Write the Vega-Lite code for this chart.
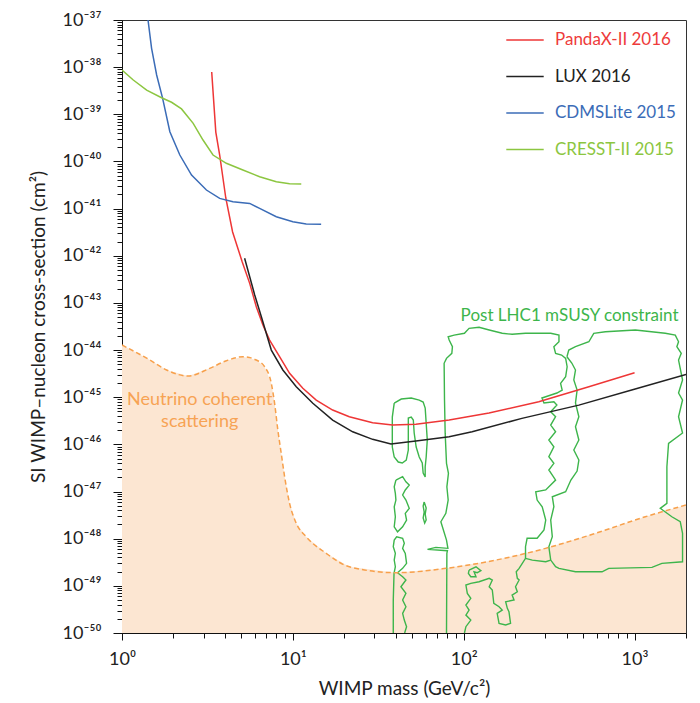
{
  "$schema": "https://vega.github.io/schema/vega-lite/v6.json",
  "width": 564,
  "height": 613,
  "autosize": {"type": "none"},
  "padding": {"left": 122, "top": 20, "right": 14, "bottom": 70},
  "background": "white",
  "config": {
    "view": {"stroke": "#333", "strokeWidth": 1},
    "font": "Lato",
    "axis": {"labelFont": "Lato", "titleFont": "Lato", "titleFontWeight": "normal", "labelColor": "#222", "titleColor": "#222", "domainColor": "#111", "tickColor": "#111", "grid": false, "labelFontSize": 18, "titleFontSize": 19, "labelOverlap": false, "labelFlush": false}
  },
  "datasets": {
    "curves": [
      {"experiment": "PandaX-II 2016", "i": 0, "mass": 3.35, "sigma": 7.9e-39},
      {"experiment": "PandaX-II 2016", "i": 1, "mass": 3.54, "sigma": 4.2e-40},
      {"experiment": "PandaX-II 2016", "i": 2, "mass": 3.73, "sigma": 1.37e-40},
      {"experiment": "PandaX-II 2016", "i": 3, "mass": 4.05, "sigma": 1.68e-41},
      {"experiment": "PandaX-II 2016", "i": 4, "mass": 4.44, "sigma": 3.19e-42},
      {"experiment": "PandaX-II 2016", "i": 5, "mass": 5.05, "sigma": 7.5e-43},
      {"experiment": "PandaX-II 2016", "i": 6, "mass": 5.59, "sigma": 2.6e-43},
      {"experiment": "PandaX-II 2016", "i": 7, "mass": 6.11, "sigma": 8.31e-44},
      {"experiment": "PandaX-II 2016", "i": 8, "mass": 6.68, "sigma": 3.4e-44},
      {"experiment": "PandaX-II 2016", "i": 9, "mass": 7.31, "sigma": 1.63e-44},
      {"experiment": "PandaX-II 2016", "i": 10, "mass": 8.36, "sigma": 7.23e-45},
      {"experiment": "PandaX-II 2016", "i": 11, "mass": 9.57, "sigma": 3.21e-45},
      {"experiment": "PandaX-II 2016", "i": 12, "mass": 11.44, "sigma": 1.55e-45},
      {"experiment": "PandaX-II 2016", "i": 13, "mass": 13.7, "sigma": 8.72e-46},
      {"experiment": "PandaX-II 2016", "i": 14, "mass": 17.1, "sigma": 5.35e-46},
      {"experiment": "PandaX-II 2016", "i": 15, "mass": 21.4, "sigma": 3.86e-46},
      {"experiment": "PandaX-II 2016", "i": 16, "mass": 29.3, "sigma": 2.88e-46},
      {"experiment": "PandaX-II 2016", "i": 17, "mass": 38.3, "sigma": 2.57e-46},
      {"experiment": "PandaX-II 2016", "i": 18, "mass": 52.5, "sigma": 2.66e-46},
      {"experiment": "PandaX-II 2016", "i": 19, "mass": 82.2, "sigma": 3.28e-46},
      {"experiment": "PandaX-II 2016", "i": 20, "mass": 140.6, "sigma": 4.62e-46},
      {"experiment": "PandaX-II 2016", "i": 21, "mass": 275, "sigma": 8.03e-46},
      {"experiment": "PandaX-II 2016", "i": 22, "mass": 540, "sigma": 1.67e-45},
      {"experiment": "PandaX-II 2016", "i": 23, "mass": 1000, "sigma": 3.31e-45},
      {"experiment": "LUX 2016", "i": 0, "mass": 5.22, "sigma": 8.83e-43},
      {"experiment": "LUX 2016", "i": 1, "mass": 5.59, "sigma": 3.6e-43},
      {"experiment": "LUX 2016", "i": 2, "mass": 5.98, "sigma": 1.47e-43},
      {"experiment": "LUX 2016", "i": 3, "mass": 6.54, "sigma": 5.1e-44},
      {"experiment": "LUX 2016", "i": 4, "mass": 7.48, "sigma": 1.0e-44},
      {"experiment": "LUX 2016", "i": 5, "mass": 8.74, "sigma": 3.78e-45},
      {"experiment": "LUX 2016", "i": 6, "mass": 10.47, "sigma": 1.67e-45},
      {"experiment": "LUX 2016", "i": 7, "mass": 13.09, "sigma": 7.43e-46},
      {"experiment": "LUX 2016", "i": 8, "mass": 17.1, "sigma": 3.28e-46},
      {"experiment": "LUX 2016", "i": 9, "mass": 22.4, "sigma": 1.85e-46},
      {"experiment": "LUX 2016", "i": 10, "mass": 29.3, "sigma": 1.28e-46},
      {"experiment": "LUX 2016", "i": 11, "mass": 37.5, "sigma": 1.02e-46},
      {"experiment": "LUX 2016", "i": 12, "mass": 52.5, "sigma": 1.18e-46},
      {"experiment": "LUX 2016", "i": 13, "mass": 82.2, "sigma": 1.45e-46},
      {"experiment": "LUX 2016", "i": 14, "mass": 112, "sigma": 1.85e-46},
      {"experiment": "LUX 2016", "i": 15, "mass": 219, "sigma": 3.56e-46},
      {"experiment": "LUX 2016", "i": 16, "mass": 472, "sigma": 6.8e-46},
      {"experiment": "LUX 2016", "i": 17, "mass": 962, "sigma": 1.42e-45},
      {"experiment": "LUX 2016", "i": 18, "mass": 2000, "sigma": 3.05e-45},
      {"experiment": "CDMSLite 2015", "i": 0, "mass": 1.42, "sigma": 1e-37},
      {"experiment": "CDMSLite 2015", "i": 1, "mass": 1.49, "sigma": 2.51e-38},
      {"experiment": "CDMSLite 2015", "i": 2, "mass": 1.595, "sigma": 6.82e-39},
      {"experiment": "CDMSLite 2015", "i": 3, "mass": 1.729, "sigma": 2.18e-39},
      {"experiment": "CDMSLite 2015", "i": 4, "mass": 1.906, "sigma": 4.27e-40},
      {"experiment": "CDMSLite 2015", "i": 5, "mass": 2.18, "sigma": 1.37e-40},
      {"experiment": "CDMSLite 2015", "i": 6, "mass": 2.553, "sigma": 5.16e-41},
      {"experiment": "CDMSLite 2015", "i": 7, "mass": 3.12, "sigma": 2.48e-41},
      {"experiment": "CDMSLite 2015", "i": 8, "mass": 3.73, "sigma": 1.65e-41},
      {"experiment": "CDMSLite 2015", "i": 9, "mass": 4.46, "sigma": 1.40e-41},
      {"experiment": "CDMSLite 2015", "i": 10, "mass": 5.59, "sigma": 1.29e-41},
      {"experiment": "CDMSLite 2015", "i": 11, "mass": 6.39, "sigma": 1.01e-41},
      {"experiment": "CDMSLite 2015", "i": 12, "mass": 8.0, "sigma": 6.73e-42},
      {"experiment": "CDMSLite 2015", "i": 13, "mass": 10.0, "sigma": 5.27e-42},
      {"experiment": "CDMSLite 2015", "i": 14, "mass": 11.97, "sigma": 4.71e-42},
      {"experiment": "CDMSLite 2015", "i": 15, "mass": 14.64, "sigma": 4.64e-42},
      {"experiment": "CRESST-II 2015", "i": 0, "mass": 1.0, "sigma": 8.7e-39},
      {"experiment": "CRESST-II 2015", "i": 1, "mass": 1.164, "sigma": 5.33e-39},
      {"experiment": "CRESST-II 2015", "i": 2, "mass": 1.394, "sigma": 3.27e-39},
      {"experiment": "CRESST-II 2015", "i": 3, "mass": 1.705, "sigma": 2.25e-39},
      {"experiment": "CRESST-II 2015", "i": 4, "mass": 1.95, "sigma": 1.80e-39},
      {"experiment": "CRESST-II 2015", "i": 5, "mass": 2.23, "sigma": 1.30e-39},
      {"experiment": "CRESST-II 2015", "i": 6, "mass": 2.61, "sigma": 6.44e-40},
      {"experiment": "CRESST-II 2015", "i": 7, "mass": 2.98, "sigma": 2.85e-40},
      {"experiment": "CRESST-II 2015", "i": 8, "mass": 3.41, "sigma": 1.37e-40},
      {"experiment": "CRESST-II 2015", "i": 9, "mass": 4.08, "sigma": 9.14e-41},
      {"experiment": "CRESST-II 2015", "i": 10, "mass": 5.10, "sigma": 6.59e-41},
      {"experiment": "CRESST-II 2015", "i": 11, "mass": 6.39, "sigma": 4.75e-41},
      {"experiment": "CRESST-II 2015", "i": 12, "mass": 8.0, "sigma": 3.72e-41},
      {"experiment": "CRESST-II 2015", "i": 13, "mass": 9.57, "sigma": 3.37e-41},
      {"experiment": "CRESST-II 2015", "i": 14, "mass": 11.2, "sigma": 3.32e-41}
    ],
    "neutrino": [
      {"mass": 1.0, "sigma": 1.28e-44}, {"mass": 1.457, "sigma": 6.15e-45}, {"mass": 1.823, "sigma": 3.78e-45},
      {"mass": 2.44, "sigma": 2.82e-45}, {"mass": 3.26, "sigma": 4.1e-45}, {"mass": 4.08, "sigma": 5.94e-45},
      {"mass": 5.10, "sigma": 7.22e-45}, {"mass": 6.11, "sigma": 6.15e-45}, {"mass": 6.83, "sigma": 4.44e-45},
      {"mass": 7.48, "sigma": 1.97e-45}, {"mass": 7.82, "sigma": 7.43e-46}, {"mass": 8.17, "sigma": 2.01e-46},
      {"mass": 8.55, "sigma": 6.45e-47}, {"mass": 8.95, "sigma": 2.06e-47}, {"mass": 9.57, "sigma": 5.62e-48},
      {"mass": 10.47, "sigma": 2.12e-48}, {"mass": 11.97, "sigma": 1.10e-48}, {"mass": 15.67, "sigma": 4.89e-49},
      {"mass": 21.4, "sigma": 2.54e-49}, {"mass": 40.2, "sigma": 1.90e-49}, {"mass": 78.6, "sigma": 2.35e-49},
      {"mass": 154, "sigma": 3.52e-49}, {"mass": 301, "sigma": 6.24e-49}, {"mass": 590, "sigma": 1.30e-48},
      {"mass": 1156, "sigma": 2.92e-48}, {"mass": 2000, "sigma": 5.18e-48}
    ],
    "labels": [
      {"text": "Neutrino coherent", "mass": 2.85, "sigma": 8.73e-46, "kind": "nu"},
      {"text": "scattering", "mass": 2.85, "sigma": 3.02e-46, "kind": "nu"}
    ],
    "contours": [
      {"c": "A", "i": 0, "mass": 39.2, "sigma": 7.53e-46}, {"c": "A", "i": 1, "mass": 43.1, "sigma": 9.16e-46},
      {"c": "A", "i": 2, "mass": 49.3, "sigma": 9.62e-46}, {"c": "A", "i": 3, "mass": 54.9, "sigma": 8.72e-46},
      {"c": "A", "i": 4, "mass": 57.9, "sigma": 7.91e-46}, {"c": "A", "i": 5, "mass": 59.5, "sigma": 5.90e-46},
      {"c": "A", "i": 6, "mass": 60.3, "sigma": 2.84e-46}, {"c": "A", "i": 7, "mass": 61.2, "sigma": 1.24e-46},
      {"c": "A", "i": 8, "mass": 60.3, "sigma": 5.39e-47}, {"c": "A", "i": 9, "mass": 59.5, "sigma": 3.31e-47},
      {"c": "A", "i": 10, "mass": 59.5, "sigma": 2.03e-47}, {"c": "A", "i": 11, "mass": 57.9, "sigma": 2.47e-47},
      {"c": "A", "i": 12, "mass": 57.2, "sigma": 4.02e-47}, {"c": "A", "i": 13, "mass": 54.9, "sigma": 5.39e-47},
      {"c": "A", "i": 14, "mass": 52.7, "sigma": 8.79e-47}, {"c": "A", "i": 15, "mass": 51.3, "sigma": 1.74e-46},
      {"c": "A", "i": 16, "mass": 50.7, "sigma": 3.28e-46}, {"c": "A", "i": 17, "mass": 49.3, "sigma": 3.80e-46},
      {"c": "A", "i": 18, "mass": 47.4, "sigma": 3.62e-46}, {"c": "A", "i": 19, "mass": 47.4, "sigma": 1.74e-46},
      {"c": "A", "i": 20, "mass": 47.4, "sigma": 7.59e-47}, {"c": "A", "i": 21, "mass": 46.1, "sigma": 4.66e-47},
      {"c": "A", "i": 22, "mass": 43.7, "sigma": 4.02e-47}, {"c": "A", "i": 23, "mass": 41.4, "sigma": 4.22e-47},
      {"c": "A", "i": 24, "mass": 39.2, "sigma": 5.39e-47}, {"c": "A", "i": 25, "mass": 38.2, "sigma": 8.79e-47},
      {"c": "A", "i": 26, "mass": 38.2, "sigma": 1.74e-46}, {"c": "A", "i": 27, "mass": 38.2, "sigma": 3.80e-46},
      {"c": "A", "i": 28, "mass": 39.2, "sigma": 7.53e-46},
      {"c": "B", "i": 0, "mass": 40.1, "sigma": 1.75e-47}, {"c": "B", "i": 1, "mass": 43.9, "sigma": 2.06e-47},
      {"c": "B", "i": 2, "mass": 45.9, "sigma": 1.61e-47}, {"c": "B", "i": 3, "mass": 48.0, "sigma": 1.37e-47},
      {"c": "B", "i": 4, "mass": 45.5, "sigma": 1.08e-47}, {"c": "B", "i": 5, "mass": 43.9, "sigma": 8.43e-48},
      {"c": "B", "i": 6, "mass": 45.9, "sigma": 6.60e-48}, {"c": "B", "i": 7, "mass": 48.0, "sigma": 4.40e-48},
      {"c": "B", "i": 8, "mass": 45.5, "sigma": 3.45e-48}, {"c": "B", "i": 9, "mass": 46.3, "sigma": 2.49e-48},
      {"c": "B", "i": 10, "mass": 43.9, "sigma": 1.79e-48}, {"c": "B", "i": 11, "mass": 41.0, "sigma": 1.40e-48},
      {"c": "B", "i": 12, "mass": 39.2, "sigma": 1.79e-48}, {"c": "B", "i": 13, "mass": 39.8, "sigma": 2.92e-48},
      {"c": "B", "i": 14, "mass": 39.2, "sigma": 4.76e-48}, {"c": "B", "i": 15, "mass": 40.1, "sigma": 6.60e-48},
      {"c": "B", "i": 16, "mass": 39.8, "sigma": 9.16e-48}, {"c": "B", "i": 17, "mass": 39.2, "sigma": 1.26e-47},
      {"c": "B", "i": 18, "mass": 40.1, "sigma": 1.75e-47},
      {"c": "C", "i": 0, "mass": 58.7, "sigma": 5.99e-48}, {"c": "C", "i": 1, "mass": 60.3, "sigma": 4.47e-48},
      {"c": "C", "i": 2, "mass": 59.5, "sigma": 3.33e-48}, {"c": "C", "i": 3, "mass": 60.3, "sigma": 2.49e-48},
      {"c": "C", "i": 4, "mass": 59.1, "sigma": 2.15e-48}, {"c": "C", "i": 5, "mass": 57.9, "sigma": 2.74e-48},
      {"c": "C", "i": 6, "mass": 58.7, "sigma": 3.67e-48}, {"c": "C", "i": 7, "mass": 57.9, "sigma": 4.93e-48},
      {"c": "C", "i": 8, "mass": 58.7, "sigma": 5.99e-48},
      {"c": "D", "i": 0, "mass": 38.7, "sigma": 1e-50}, {"c": "D", "i": 1, "mass": 38.7, "sigma": 5.0e-50},
      {"c": "D", "i": 2, "mass": 39.1, "sigma": 1.84e-49}, {"c": "D", "i": 3, "mass": 39.8, "sigma": 2.54e-49},
      {"c": "D", "i": 4, "mass": 39.2, "sigma": 3.52e-49}, {"c": "D", "i": 5, "mass": 39.8, "sigma": 4.89e-49},
      {"c": "D", "i": 6, "mass": 38.7, "sigma": 6.75e-49}, {"c": "D", "i": 7, "mass": 39.2, "sigma": 9.36e-49},
      {"c": "D", "i": 8, "mass": 40.5, "sigma": 1.10e-48}, {"c": "D", "i": 9, "mass": 43.9, "sigma": 1.02e-48},
      {"c": "D", "i": 10, "mass": 44.9, "sigma": 7.97e-49}, {"c": "D", "i": 11, "mass": 43.9, "sigma": 6.24e-49},
      {"c": "D", "i": 12, "mass": 45.5, "sigma": 4.89e-49}, {"c": "D", "i": 13, "mass": 46.3, "sigma": 3.00e-49},
      {"c": "D", "i": 14, "mass": 43.9, "sigma": 2.35e-49}, {"c": "D", "i": 15, "mass": 41.0, "sigma": 1.90e-49},
      {"c": "D", "i": 16, "mass": 43.9, "sigma": 1.56e-49}, {"c": "D", "i": 17, "mass": 45.9, "sigma": 1.33e-49},
      {"c": "D", "i": 18, "mass": 42.9, "sigma": 9.57e-50}, {"c": "D", "i": 19, "mass": 45.9, "sigma": 6.93e-50},
      {"c": "D", "i": 20, "mass": 43.9, "sigma": 5.0e-50}, {"c": "D", "i": 21, "mass": 45.9, "sigma": 3.60e-50},
      {"c": "D", "i": 22, "mass": 43.9, "sigma": 2.61e-50}, {"c": "D", "i": 23, "mass": 44.9, "sigma": 1.88e-50},
      {"c": "D", "i": 24, "mass": 46.3, "sigma": 1.36e-50}, {"c": "D", "i": 25, "mass": 45.1, "sigma": 1e-50},
      {"c": "E", "i": 0, "mass": 79.3, "sigma": 1e-50}, {"c": "E", "i": 1, "mass": 79.7, "sigma": 4.89e-49},
      {"c": "E", "i": 2, "mass": 80.3, "sigma": 5.55e-49}, {"c": "E", "i": 3, "mass": 61.4, "sigma": 5.94e-49},
      {"c": "E", "i": 4, "mass": 68.7, "sigma": 6.55e-49}, {"c": "E", "i": 5, "mass": 80.8, "sigma": 6.24e-49},
      {"c": "E", "i": 6, "mass": 79.3, "sigma": 9.36e-49}, {"c": "E", "i": 7, "mass": 73.5, "sigma": 2.29e-48},
      {"c": "E", "i": 8, "mass": 78.6, "sigma": 3.45e-48}, {"c": "E", "i": 9, "mass": 81.1, "sigma": 6.60e-48},
      {"c": "E", "i": 10, "mass": 79.7, "sigma": 1.26e-47}, {"c": "E", "i": 11, "mass": 81.4, "sigma": 2.43e-47},
      {"c": "E", "i": 12, "mass": 79.3, "sigma": 3.96e-47}, {"c": "E", "i": 13, "mass": 77.9, "sigma": 1.71e-46},
      {"c": "E", "i": 14, "mass": 77.2, "sigma": 8.72e-46}, {"c": "E", "i": 15, "mass": 76.8, "sigma": 5.24e-45},
      {"c": "E", "i": 16, "mass": 79.3, "sigma": 6.68e-45}, {"c": "E", "i": 17, "mass": 85.2, "sigma": 8.53e-45},
      {"c": "E", "i": 18, "mass": 85.9, "sigma": 1.18e-44}, {"c": "E", "i": 19, "mass": 82.2, "sigma": 1.63e-44},
      {"c": "E", "i": 20, "mass": 81.1, "sigma": 1.92e-44}, {"c": "E", "i": 21, "mass": 87.9, "sigma": 2.08e-44},
      {"c": "E", "i": 22, "mass": 101, "sigma": 2.27e-44}, {"c": "E", "i": 23, "mass": 107.5, "sigma": 2.89e-44},
      {"c": "E", "i": 24, "mass": 123, "sigma": 3.04e-44}, {"c": "E", "i": 25, "mass": 141, "sigma": 2.66e-44},
      {"c": "E", "i": 26, "mass": 168, "sigma": 2.27e-44}, {"c": "E", "i": 27, "mass": 192, "sigma": 2.16e-44},
      {"c": "E", "i": 28, "mass": 230, "sigma": 2.27e-44}, {"c": "E", "i": 29, "mass": 276, "sigma": 2.27e-44},
      {"c": "E", "i": 30, "mass": 323, "sigma": 2.27e-44}, {"c": "E", "i": 31, "mass": 361, "sigma": 2.08e-44},
      {"c": "E", "i": 32, "mass": 361, "sigma": 1.50e-44}, {"c": "E", "i": 33, "mass": 337, "sigma": 1.18e-44},
      {"c": "E", "i": 34, "mass": 345, "sigma": 8.53e-45}, {"c": "E", "i": 35, "mass": 374, "sigma": 7.85e-45},
      {"c": "E", "i": 36, "mass": 395, "sigma": 6.68e-45}, {"c": "E", "i": 37, "mass": 403, "sigma": 4.43e-45},
      {"c": "E", "i": 38, "mass": 395, "sigma": 2.72e-45}, {"c": "E", "i": 39, "mass": 369, "sigma": 1.97e-45},
      {"c": "E", "i": 40, "mass": 377, "sigma": 1.42e-45}, {"c": "E", "i": 41, "mass": 351, "sigma": 1.23e-45},
      {"c": "E", "i": 42, "mass": 287, "sigma": 9.62e-46}, {"c": "E", "i": 43, "mass": 295, "sigma": 7.53e-46},
      {"c": "E", "i": 44, "mass": 337, "sigma": 8.03e-46}, {"c": "E", "i": 45, "mass": 351, "sigma": 6.83e-46},
      {"c": "E", "i": 46, "mass": 323, "sigma": 4.93e-46}, {"c": "E", "i": 47, "mass": 345, "sigma": 3.86e-46},
      {"c": "E", "i": 48, "mass": 323, "sigma": 2.57e-46}, {"c": "E", "i": 49, "mass": 345, "sigma": 1.85e-46},
      {"c": "E", "i": 50, "mass": 315, "sigma": 1.24e-46}, {"c": "E", "i": 51, "mass": 337, "sigma": 8.92e-47},
      {"c": "E", "i": 52, "mass": 315, "sigma": 5.47e-47}, {"c": "E", "i": 53, "mass": 337, "sigma": 3.96e-47},
      {"c": "E", "i": 54, "mass": 315, "sigma": 2.86e-47}, {"c": "E", "i": 55, "mass": 333, "sigma": 2.13e-47},
      {"c": "E", "i": 56, "mass": 345, "sigma": 1.75e-47}, {"c": "E", "i": 57, "mass": 302, "sigma": 1.08e-47},
      {"c": "E", "i": 58, "mass": 264, "sigma": 9.90e-48}, {"c": "E", "i": 59, "mass": 269, "sigma": 6.60e-48},
      {"c": "E", "i": 60, "mass": 288, "sigma": 4.76e-48}, {"c": "E", "i": 61, "mass": 302, "sigma": 2.49e-48},
      {"c": "E", "i": 62, "mass": 295, "sigma": 1.53e-48}, {"c": "E", "i": 63, "mass": 269, "sigma": 1.02e-48},
      {"c": "E", "i": 64, "mass": 235, "sigma": 1.02e-48}, {"c": "E", "i": 65, "mass": 230, "sigma": 6.75e-49},
      {"c": "E", "i": 66, "mass": 230, "sigma": 3.83e-49}, {"c": "E", "i": 67, "mass": 211, "sigma": 2.35e-49},
      {"c": "E", "i": 68, "mass": 203, "sigma": 1.99e-49}, {"c": "E", "i": 69, "mass": 206, "sigma": 1.44e-49},
      {"c": "E", "i": 70, "mass": 211, "sigma": 1.33e-49}, {"c": "E", "i": 71, "mass": 201, "sigma": 9.57e-50},
      {"c": "E", "i": 72, "mass": 206, "sigma": 7.50e-50}, {"c": "E", "i": 73, "mass": 192, "sigma": 6.38e-50},
      {"c": "E", "i": 74, "mass": 197, "sigma": 5.0e-50}, {"c": "E", "i": 75, "mass": 176, "sigma": 4.60e-50},
      {"c": "E", "i": 76, "mass": 180, "sigma": 3.33e-50}, {"c": "E", "i": 77, "mass": 184, "sigma": 2.82e-50},
      {"c": "E", "i": 78, "mass": 188, "sigma": 1.60e-50}, {"c": "E", "i": 79, "mass": 176, "sigma": 1.48e-50},
      {"c": "E", "i": 80, "mass": 161, "sigma": 1.60e-50}, {"c": "E", "i": 81, "mass": 157, "sigma": 2.61e-50},
      {"c": "E", "i": 82, "mass": 168, "sigma": 3.07e-50}, {"c": "E", "i": 83, "mass": 161, "sigma": 3.60e-50},
      {"c": "E", "i": 84, "mass": 150, "sigma": 4.26e-50}, {"c": "E", "i": 85, "mass": 147, "sigma": 8.15e-50},
      {"c": "E", "i": 86, "mass": 141, "sigma": 9.57e-50}, {"c": "E", "i": 87, "mass": 147, "sigma": 1.33e-49},
      {"c": "E", "i": 88, "mass": 141, "sigma": 1.44e-49}, {"c": "E", "i": 89, "mass": 123, "sigma": 1.22e-49},
      {"c": "E", "i": 90, "mass": 110, "sigma": 1.13e-49}, {"c": "E", "i": 91, "mass": 103, "sigma": 1.04e-49},
      {"c": "E", "i": 92, "mass": 105, "sigma": 6.93e-50}, {"c": "E", "i": 93, "mass": 110, "sigma": 5.43e-50},
      {"c": "E", "i": 94, "mass": 103, "sigma": 3.92e-50}, {"c": "E", "i": 95, "mass": 107.5, "sigma": 3.07e-50},
      {"c": "E", "i": 96, "mass": 103, "sigma": 2.40e-50}, {"c": "E", "i": 97, "mass": 110, "sigma": 1.88e-50},
      {"c": "E", "i": 98, "mass": 103, "sigma": 1.36e-50}, {"c": "E", "i": 99, "mass": 101, "sigma": 1e-50},
      {"c": "L", "i": 0, "mass": 230, "sigma": 3.83e-49}, {"c": "L", "i": 1, "mass": 252, "sigma": 3.52e-49},
      {"c": "L", "i": 2, "mass": 302, "sigma": 3.24e-49}, {"c": "L", "i": 3, "mass": 323, "sigma": 3.52e-49},
      {"c": "G", "i": 0, "mass": 107.5, "sigma": 2.16e-49}, {"c": "G", "i": 1, "mass": 118, "sigma": 2.54e-49},
      {"c": "G", "i": 2, "mass": 126, "sigma": 2.09e-49}, {"c": "G", "i": 3, "mass": 120, "sigma": 1.90e-49},
      {"c": "G", "i": 4, "mass": 115, "sigma": 1.99e-49}, {"c": "G", "i": 5, "mass": 118, "sigma": 1.56e-49},
      {"c": "G", "i": 6, "mass": 110, "sigma": 1.56e-49}, {"c": "G", "i": 7, "mass": 106.5, "sigma": 1.84e-49},
      {"c": "G", "i": 8, "mass": 107.5, "sigma": 2.16e-49},
      {"c": "F", "i": 0, "mass": 402, "sigma": 7.23e-45}, {"c": "F", "i": 1, "mass": 429, "sigma": 5.31e-45},
      {"c": "F", "i": 2, "mass": 451, "sigma": 3.78e-45}, {"c": "F", "i": 3, "mass": 441, "sigma": 2.32e-45},
      {"c": "F", "i": 4, "mass": 461, "sigma": 1.42e-45}, {"c": "F", "i": 5, "mass": 451, "sigma": 7.53e-46},
      {"c": "F", "i": 6, "mass": 472, "sigma": 3.86e-46}, {"c": "F", "i": 7, "mass": 451, "sigma": 2.37e-46},
      {"c": "F", "i": 8, "mass": 472, "sigma": 1.24e-46}, {"c": "F", "i": 9, "mass": 441, "sigma": 7.59e-47},
      {"c": "F", "i": 10, "mass": 472, "sigma": 4.66e-47}, {"c": "F", "i": 11, "mass": 461, "sigma": 2.72e-47},
      {"c": "F", "i": 12, "mass": 424, "sigma": 1.75e-47}, {"c": "F", "i": 13, "mass": 395, "sigma": 9.90e-48},
      {"c": "F", "i": 14, "mass": 330, "sigma": 7.76e-48}, {"c": "F", "i": 15, "mass": 337, "sigma": 4.76e-48},
      {"c": "F", "i": 16, "mass": 323, "sigma": 2.49e-48}, {"c": "F", "i": 17, "mass": 330, "sigma": 1.10e-48},
      {"c": "F", "i": 18, "mass": 315, "sigma": 6.75e-49}, {"c": "F", "i": 19, "mass": 323, "sigma": 3.52e-49},
      {"c": "F", "i": 20, "mass": 345, "sigma": 2.54e-49}, {"c": "F", "i": 21, "mass": 361, "sigma": 2.35e-49},
      {"c": "F", "i": 22, "mass": 451, "sigma": 1.99e-49}, {"c": "F", "i": 23, "mass": 645, "sigma": 1.99e-49},
      {"c": "F", "i": 24, "mass": 706, "sigma": 2.35e-49}, {"c": "F", "i": 25, "mass": 1264, "sigma": 2.47e-49},
      {"c": "F", "i": 26, "mass": 1445, "sigma": 3.00e-49}, {"c": "F", "i": 27, "mass": 1909, "sigma": 3.24e-49},
      {"c": "F", "i": 28, "mass": 1909, "sigma": 1.30e-48}, {"c": "F", "i": 29, "mass": 1851, "sigma": 2.29e-48},
      {"c": "F", "i": 30, "mass": 1653, "sigma": 2.92e-48}, {"c": "F", "i": 31, "mass": 1414, "sigma": 4.40e-48},
      {"c": "F", "i": 32, "mass": 1546, "sigma": 5.62e-48}, {"c": "F", "i": 33, "mass": 1546, "sigma": 3.36e-47},
      {"c": "F", "i": 34, "mass": 1581, "sigma": 1.05e-46}, {"c": "F", "i": 35, "mass": 1909, "sigma": 1.74e-46},
      {"c": "F", "i": 36, "mass": 1809, "sigma": 3.86e-46}, {"c": "F", "i": 37, "mass": 1909, "sigma": 8.72e-46},
      {"c": "F", "i": 38, "mass": 1809, "sigma": 1.23e-45}, {"c": "F", "i": 39, "mass": 1909, "sigma": 2.32e-45},
      {"c": "F", "i": 40, "mass": 1809, "sigma": 6.15e-45}, {"c": "F", "i": 41, "mass": 1876, "sigma": 8.53e-45},
      {"c": "F", "i": 42, "mass": 1768, "sigma": 1.18e-44}, {"c": "F", "i": 43, "mass": 1809, "sigma": 1.50e-44},
      {"c": "F", "i": 44, "mass": 1731, "sigma": 2.08e-44}, {"c": "F", "i": 45, "mass": 1513, "sigma": 2.27e-44},
      {"c": "F", "i": 46, "mass": 1011, "sigma": 2.66e-44}, {"c": "F", "i": 47, "mass": 675, "sigma": 2.45e-44},
      {"c": "F", "i": 48, "mass": 577, "sigma": 2.27e-44}, {"c": "F", "i": 49, "mass": 540, "sigma": 1.50e-44},
      {"c": "F", "i": 50, "mass": 451, "sigma": 1.18e-44}, {"c": "F", "i": 51, "mass": 412, "sigma": 1.0e-44},
      {"c": "F", "i": 52, "mass": 402, "sigma": 7.23e-45}
    ]
  },
  "layer": [
    {
      "data": {"name": "neutrino"},
      "mark": {"type": "area", "color": "#fce6d2", "clip": true},
      "encoding": {
        "x": {"field": "mass", "type": "quantitative", "scale": {"type": "log", "domain": [1, 2000], "nice": false},
          "axis": {"title": "WIMP mass (GeV/c²)", "values": [1,2,3,4,5,6,7,8,9,10,20,30,40,50,60,70,80,90,100,200,300,400,500,600,700,800,900,1000,2000],
            "labelExpr": "abs(log(datum.value)/LN10 - round(log(datum.value)/LN10)) < 0.01 ? '10' + ['⁰','¹','²','³'][round(log(datum.value)/LN10)] : ''",
            "tickSize": {"condition": {"test": "abs(log(datum.value)/LN10 - round(log(datum.value)/LN10)) < 0.01", "value": 7}, "value": 5},
            "labelPadding": 10, "titlePadding": 11}},
        "y": {"field": "sigma", "type": "quantitative", "scale": {"type": "log", "domain": [1e-50, 1e-37], "nice": false},
          "axis": {"title": "SI WIMP–nucleon cross-section (cm²)",
            "values": [1e-50,2e-50,3e-50,4e-50,5e-50,6e-50,7e-50,8e-50,9e-50,1e-49,2e-49,3e-49,4e-49,5e-49,6e-49,7e-49,8e-49,9e-49,1e-48,2e-48,3e-48,4e-48,5e-48,6e-48,7e-48,8e-48,9e-48,1e-47,2e-47,3e-47,4e-47,5e-47,6e-47,7e-47,8e-47,9e-47,1e-46,2e-46,3e-46,4e-46,5e-46,6e-46,7e-46,8e-46,9e-46,1e-45,2e-45,3e-45,4e-45,5e-45,6e-45,7e-45,8e-45,9e-45,1e-44,2e-44,3e-44,4e-44,5e-44,6e-44,7e-44,8e-44,9e-44,1e-43,2e-43,3e-43,4e-43,5e-43,6e-43,7e-43,8e-43,9e-43,1e-42,2e-42,3e-42,4e-42,5e-42,6e-42,7e-42,8e-42,9e-42,1e-41,2e-41,3e-41,4e-41,5e-41,6e-41,7e-41,8e-41,9e-41,1e-40,2e-40,3e-40,4e-40,5e-40,6e-40,7e-40,8e-40,9e-40,1e-39,2e-39,3e-39,4e-39,5e-39,6e-39,7e-39,8e-39,9e-39,1e-38,2e-38,3e-38,4e-38,5e-38,6e-38,7e-38,8e-38,9e-38,1e-37],
            "labelExpr": "abs(log(datum.value)/LN10 - round(log(datum.value)/LN10)) < 0.01 ? '10⁻' + ['³⁷','³⁸','³⁹','⁴⁰','⁴¹','⁴²','⁴³','⁴⁴','⁴⁵','⁴⁶','⁴⁷','⁴⁸','⁴⁹','⁵⁰'][-round(log(datum.value)/LN10) - 37] : ''",
            "tickSize": {"condition": {"test": "abs(log(datum.value)/LN10 - round(log(datum.value)/LN10)) < 0.01", "value": 9}, "value": 5},
            "labelPadding": 12, "titlePadding": 14}},
        "y2": {"datum": 1e-50}
      }
    },
    {
      "data": {"name": "contours"},
      "mark": {"type": "line", "color": "#3db54b", "strokeWidth": 1.4, "clip": true},
      "encoding": {
        "x": {"field": "mass", "type": "quantitative", "scale": {"type": "log", "domain": [1, 2000], "nice": false}},
        "y": {"field": "sigma", "type": "quantitative", "scale": {"type": "log", "domain": [1e-50, 1e-37], "nice": false}},
        "detail": {"field": "c", "type": "nominal"},
        "order": {"field": "i", "type": "quantitative"}
      }
    },
    {
      "data": {"name": "neutrino"},
      "mark": {"type": "line", "color": "#f7a04b", "strokeWidth": 1.5, "strokeDash": [5, 3], "clip": true, "interpolate": "monotone"},
      "encoding": {
        "x": {"field": "mass", "type": "quantitative", "scale": {"type": "log", "domain": [1, 2000], "nice": false}},
        "y": {"field": "sigma", "type": "quantitative", "scale": {"type": "log", "domain": [1e-50, 1e-37], "nice": false}}
      }
    },
    {
      "data": {"name": "curves"},
      "mark": {"type": "line", "strokeWidth": 1.5, "clip": true},
      "encoding": {
        "x": {"field": "mass", "type": "quantitative", "scale": {"type": "log", "domain": [1, 2000], "nice": false}},
        "y": {"field": "sigma", "type": "quantitative", "scale": {"type": "log", "domain": [1e-50, 1e-37], "nice": false}},
        "color": {"field": "experiment", "type": "nominal",
          "scale": {"domain": ["PandaX-II 2016", "LUX 2016", "CDMSLite 2015", "CRESST-II 2015"], "range": ["#ee3636", "#222222", "#3b6cb7", "#8cc640"]},
          "legend": {"title": null, "orient": "none", "legendX": 383, "legendY": 0, "symbolType": "stroke", "symbolSize": 1400, "symbolStrokeWidth": 1.6,
            "labelFontSize": 17, "labelFont": "Lato", "labelOffset": 10, "rowPadding": 8.5, "padding": 0,
            "labelColor": {"expr": "datum.value == 'LUX 2016' ? '#222222' : datum.value == 'PandaX-II 2016' ? '#ee3b3b' : datum.value == 'CDMSLite 2015' ? '#3b6cb7' : '#8cc640'"}}},
        "order": {"field": "i", "type": "quantitative"}
      }
    },
    {
      "data": {"name": "labels"},
      "mark": {"type": "text", "align": "center", "baseline": "middle", "fontSize": 18, "font": "Lato", "color": "#f7a354"},
      "encoding": {
        "x": {"field": "mass", "type": "quantitative", "scale": {"type": "log", "domain": [1, 2000], "nice": false}},
        "y": {"field": "sigma", "type": "quantitative", "scale": {"type": "log", "domain": [1e-50, 1e-37], "nice": false}},
        "text": {"field": "text", "type": "nominal"}
      }
    },
    {
      "data": {"values": [{"text": "Post LHC1 mSUSY constraint"}]},
      "mark": {"type": "text", "align": "right", "baseline": "middle", "fontSize": 17, "font": "Lato", "color": "#3db54b"},
      "encoding": {
        "x": {"datum": 1808, "type": "quantitative", "scale": {"type": "log", "domain": [1, 2000], "nice": false}},
        "y": {"datum": 5.27e-44, "type": "quantitative", "scale": {"type": "log", "domain": [1e-50, 1e-37], "nice": false}},
        "text": {"field": "text", "type": "nominal"}
      }
    }
  ]
}
